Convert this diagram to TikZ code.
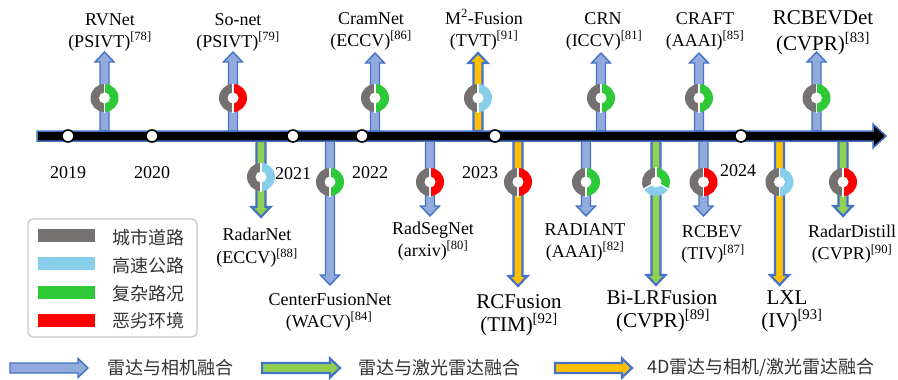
\documentclass[tikz,border=0pt]{standalone}
\usepackage{fontspec}
\setmainfont{Liberation Serif}
\newfontfamily\cjk{Noto Sans CJK SC}
\definecolor{arrB}{HTML}{4472C4}
\definecolor{camF}{HTML}{93AADD}
\definecolor{lidF}{HTML}{92D050}
\definecolor{fourF}{HTML}{FFC000}
\definecolor{rGray}{HTML}{767171}
\definecolor{rBlue}{HTML}{87CEEB}
\definecolor{rGreen}{HTML}{2DC937}
\definecolor{rRed}{HTML}{FF0000}
\newcommand\rf[1]{\textsuperscript{[#1]}}
\newcommand\myUp[3]{\path[#3] (#1-4.5,131) -- (#1-4.5,#2+10) -- (#1-9.5,#2+10) -- (#1,#2) -- (#1+9.5,#2+10) -- (#1+4.5,#2+10) -- (#1+4.5,131) -- cycle;}
\newcommand\myDown[3]{\path[#3] (#1-4.5,141) -- (#1-4.5,#2-10) -- (#1-9.5,#2-10) -- (#1,#2) -- (#1+9.5,#2-10) -- (#1+4.5,#2-10) -- (#1+4.5,141) -- cycle;}
\newcommand\myRight[4]{\path[#4] (#1,#3-5) -- (#2-10,#3-5) -- (#2-10,#3-9.5) -- (#2,#3) -- (#2-10,#3+9.5) -- (#2-10,#3+5) -- (#1,#3+5) -- cycle;}
\newcommand\myRing[4]{%
  \fill[#3] (#1,#2) -- ++(90:14) arc[start angle=90,end angle=270,radius=14] -- cycle;
  \fill[#4] (#1,#2) -- ++(-90:14) arc[start angle=-90,end angle=90,radius=14] -- cycle;
  \draw[white,line width=1.3] (#1,#2-14.5) -- (#1,#2+14.5);
  \fill[white] (#1,#2) circle[radius=5.5];}
\tikzset{
  bord/.style={draw=arrB, line width=1.4, line join=miter},
  camA/.style={bord, fill=camF},
  lidA/.style={bord, fill=lidF, line width=2.2},
  fourA/.style={bord, fill=fourF, line width=2.2},
  lab/.style={font=\fontsize{18}{22}\selectfont, inner sep=0, anchor=base},
  blab/.style={font=\fontsize{21}{25}\selectfont, inner sep=0, anchor=base},
  leg/.style={font=\cjk\fontsize{18}{22}\selectfont, text=black!80, inner sep=0, anchor=west},
  yrdot/.style={circle, draw=black, fill=white, line width=1.6, minimum size=12, inner sep=0},
  swatch/.style={minimum width=57, minimum height=13, inner sep=0, draw=none},
}
\begin{document}
\begin{tikzpicture}[x=1pt,y=-1pt]
\useasboundingbox (0,0) rectangle (898,380);
% up arrows
\myUp{104.5}{52}{camA}
\myUp{233}{52}{camA}
\myUp{375}{53}{camA}
\myUp{478}{53}{fourA}
\myUp{601}{53}{camA}
\myUp{699}{53}{camA}
\myUp{816.5}{52}{camA}
% down arrows
\myDown{261}{217}{lidA}
\myDown{330}{285}{camA}
\myDown{430}{216}{camA}
\myDown{518}{286}{fourA}
\myDown{586}{216}{camA}
\myDown{656}{285}{lidA}
\myDown{703.5}{216}{camA}
\myDown{779.5}{285}{fourA}
\myDown{843}{216}{lidA}
% timeline
\draw[fill=black, draw=arrB, line width=1.5, line join=miter] (37,131) -- (873,131) -- (873,124) -- (886,136) -- (873,148) -- (873,141) -- (37,141) -- cycle;
\node[yrdot] (d2019) at (68,136) {};
\node[yrdot] (d2020) at (152,136) {};
\node[yrdot] (d2021) at (293,136) {};
\node[yrdot] (d2022) at (362,136) {};
\node[yrdot] (d2023) at (495,136) {};
\node[yrdot] (d2024) at (741,136) {};
\node[lab] (t2019) at (68,178) {2019};
\node[lab] (t2020) at (152,178) {2020};
\node[lab] (t2021) at (293,179) {2021};
\node[lab] (t2022) at (370,178) {2022};
\node[lab] (t2023) at (480,178) {2023};
\node[lab] (t2024) at (738,176) {2024};
% rings
\myRing{104.5}{98}{rGray}{rGreen}
\myRing{233}{98}{rGray}{rRed}
\myRing{375}{98}{rGray}{rGreen}
\myRing{478}{98}{rGray}{rBlue}
\myRing{601}{98}{rGray}{rGreen}
\myRing{699}{98}{rGray}{rGreen}
\myRing{816.5}{98}{rGray}{rGreen}
\myRing{261}{177}{rGray}{rBlue}
\myRing{330}{182}{rGray}{rGreen}
\myRing{430}{182}{rGray}{rRed}
\myRing{518}{182}{rGray}{rRed}
\myRing{586}{182}{rGray}{rGreen}
\myRing{703.5}{182}{rGray}{rRed}
\myRing{779.5}{182}{rGray}{rBlue}
\myRing{843}{182}{rGray}{rRed}
\fill[rGray] (656,182) -- ++(150:14) arc[start angle=150,end angle=270,radius=14] -- cycle;
\fill[rGreen] (656,182) -- ++(270:14) arc[start angle=270,end angle=390,radius=14] -- cycle;
\fill[rBlue] (656,182) -- ++(30:14) arc[start angle=30,end angle=150,radius=14] -- cycle;
\draw[white,line width=1.3] (656,182) -- ++(30:15);
\draw[white,line width=1.3] (656,182) -- ++(150:15);
\draw[white,line width=1.3] (656,182) -- ++(270:15);
\fill[white] (656,182) circle[radius=5.5];
% top labels
\node[lab] (rv1) at (110,25) {RVNet};
\node[lab] (rv2) at (110,47) {(PSIVT)\rf{78}};
\node[lab] (so1) at (238,25) {So-net};
\node[lab] (so2) at (238,47) {(PSIVT)\rf{79}};
\node[lab] (cr1) at (371,24) {CramNet};
\node[lab] (cr2) at (371,46) {(ECCV)\rf{86}};
\node[lab] (m21) at (484,24) {M\textsuperscript{2}-Fusion};
\node[lab] (m22) at (484,46) {(TVT)\rf{91}};
\node[lab] (crn1) at (603,24) {CRN};
\node[lab] (crn2) at (604,46) {(ICCV)\rf{81}};
\node[lab] (cf1) at (705,24) {CRAFT};
\node[lab] (cf2) at (705,46) {(AAAI)\rf{85}};
\node[blab] (rd1) at (823,24) {RCBEVDet};
\node[blab] (rd2) at (823,50) {(CVPR)\rf{83}};
% bottom labels
\node[lab] (rn1) at (257,240) {RadarNet};
\node[lab] (rn2) at (257,263.5) {(ECCV)\rf{88}};
\node[lab] (cfn1) at (330,305) {CenterFusionNet};
\node[lab] (cfn2) at (329,327) {(WACV)\rf{84}};
\node[lab] (rs1) at (433,234.5) {RadSegNet};
\node[lab] (rs2) at (433,256) {(arxiv)\rf{80}};
\node[blab] (rc1) at (519,308) {RCFusion};
\node[blab] (rc2) at (519,331) {(TIM)\rf{92}};
\node[lab] (ra1) at (585,235) {RADIANT};
\node[lab] (ra2) at (585,257) {(AAAI)\rf{82}};
\node[blab] (bl1) at (662,304.5) {Bi-LRFusion};
\node[blab] (bl2) at (663,327) {(CVPR)\rf{89}};
\node[lab] (rb1) at (712,237) {RCBEV};
\node[lab] (rb2) at (713,259.5) {(TIV)\rf{87}};
\node[blab] (lx1) at (787,304.5) {LXL};
\node[blab] (lx2) at (792,327) {(IV)\rf{93}};
\node[lab] (rdd1) at (852,237) {RadarDistill};
\node[lab] (rdd2) at (852,259.5) {(CVPR)\rf{90}};
% legend box
\draw[draw=black!22, line width=1.3, rounded corners=5] (28,219) rectangle (197,337);
\node[swatch, fill=rGray] (sw1) at (66.5,235.5) {};
\node[swatch, fill=rBlue] (sw2) at (66.5,263.5) {};
\node[swatch, fill=rGreen] (sw3) at (66.5,292) {};
\node[swatch, fill=rRed] (sw4) at (66.5,320.5) {};
\node[leg] (lg1) at (112,238) {城市道路};
\node[leg] (lg2) at (112,265.5) {高速公路};
\node[leg] (lg3) at (112,293.5) {复杂路况};
\node[leg] (lg4) at (112,321) {恶劣环境};
% bottom legend
\myRight{10}{88}{368}{camA}
\myRight{262}{340}{368}{lidA}
\myRight{555}{632}{368}{fourA}
\node[leg] (bl_a) at (107,367.5) {雷达与相机融合};
\node[leg] (bl_b) at (358,367.5) {雷达与激光雷达融合};
\node[leg] (bl_c) at (647,367.5) {4D雷达与相机/激光雷达融合};
\end{tikzpicture}
\end{document}
